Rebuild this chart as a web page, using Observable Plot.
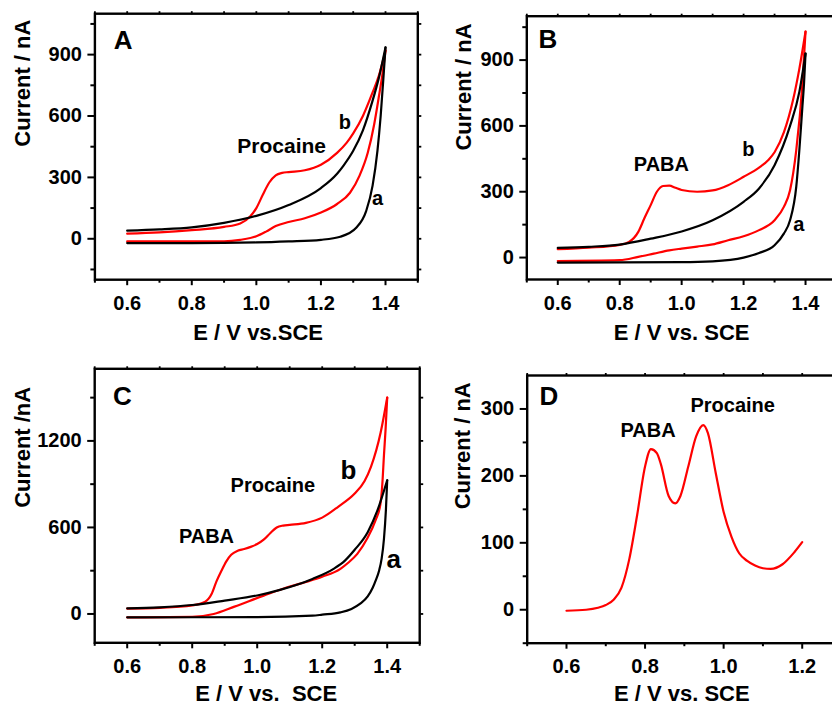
<!DOCTYPE html>
<html><head><meta charset="utf-8">
<script src="https://cdn.jsdelivr.net/npm/d3@7"></script>
<script src="https://cdn.jsdelivr.net/npm/@observablehq/plot@0.6"></script>
<style>
html,body{margin:0;padding:0;background:#fff;overflow:hidden;}
#fig{position:relative;width:832px;height:705px;overflow:hidden;font-family:"Liberation Sans",Arial,Helvetica,sans-serif;color:#000;}
.panel{position:absolute;}
</style></head><body><div id="fig"></div>
<script>
// ---------- Data (potential V vs. SCE, current nA) ----------
// Panel A: blank (a, black) and procaine (b, red), forward and reverse scans
const A_blank_fwd = [[0.6,40],[0.7,46],[0.8,56],[0.9,78],[1.0,112],[1.1,165],[1.2,248],[1.25,318],[1.27,358],[1.3,430],[1.33,530],[1.36,675],[1.38,790],[1.4,935]];
const A_blank_rev = [[1.4,935],[1.395,820],[1.385,600],[1.375,430],[1.36,260],[1.34,135],[1.31,55],[1.26,10],[1.2,-5],[1.1,-13],[1.0,-18],[0.8,-21],[0.6,-21]];
const A_sample_fwd = [[0.6,25],[0.7,31],[0.8,42],[0.9,58],[0.95,75],[0.98,108],[1.0,150],[1.02,215],[1.04,275],[1.06,310],[1.08,322],[1.1,326],[1.15,335],[1.2,362],[1.25,420],[1.28,470],[1.3,515],[1.33,600],[1.36,715],[1.38,800],[1.4,920]];
const A_sample_rev = [[1.4,920],[1.39,800],[1.38,700],[1.365,560],[1.345,420],[1.32,310],[1.29,225],[1.25,170],[1.2,128],[1.15,100],[1.1,82],[1.06,62],[1.03,35],[1.0,12],[0.95,-5],[0.9,-12],[0.8,-13],[0.6,-13]];

// Panel B: blank (a) and PABA (b)
const B_blank_fwd = [[0.6,44],[0.7,49],[0.8,59],[0.9,86],[1.0,119],[1.1,170],[1.2,254],[1.25,315],[1.3,421],[1.35,600],[1.38,755],[1.4,930]];
const B_blank_rev = [[1.4,930],[1.395,790],[1.39,690],[1.38,489],[1.37,322],[1.35,170],[1.33,109],[1.3,56],[1.25,21],[1.2,0],[1.1,-17],[1.0,-21],[0.6,-23]];
const B_sample_fwd = [[0.6,38],[0.7,45],[0.8,58],[0.83,71],[0.86,117],[0.88,180],[0.9,239],[0.92,300],[0.94,326],[0.96,328],[0.98,318],[1.0,308],[1.05,300],[1.1,306],[1.15,330],[1.2,368],[1.25,410],[1.28,445],[1.3,480],[1.33,570],[1.36,720],[1.38,860],[1.4,1030]];
const B_sample_rev = [[1.4,1030],[1.39,793],[1.37,489],[1.35,307],[1.33,231],[1.3,170],[1.25,125],[1.2,97],[1.15,79],[1.1,60],[1.05,50],[1.0,41],[0.96,33],[0.91,18],[0.86,3],[0.8,-12],[0.6,-16]];

// Panel C: blank (a) and procaine + PABA (b)
const C_blank_fwd = [[0.6,39],[0.7,46],[0.8,62],[0.9,93],[1.0,128],[1.07,167],[1.17,243],[1.235,313],[1.27,370],[1.3,445],[1.34,567],[1.37,718],[1.4,927]];
const C_blank_rev = [[1.4,927],[1.396,720],[1.39,520],[1.383,385],[1.375,300],[1.365,235],[1.355,180],[1.34,122],[1.317,71],[1.29,35],[1.256,11],[1.2,-5],[1.17,-12],[1.0,-22],[0.6,-23]];
const C_sample_fwd = [[0.6,37],[0.7,42],[0.8,59],[0.84,85],[0.86,140],[0.875,228],[0.89,300],[0.905,365],[0.92,410],[0.94,438],[0.96,450],[0.98,465],[1.0,485],[1.02,515],[1.04,560],[1.06,600],[1.08,613],[1.1,618],[1.15,632],[1.2,668],[1.25,745],[1.3,835],[1.33,920],[1.35,1020],[1.38,1260],[1.4,1500]];
const C_sample_rev = [[1.4,1500],[1.395,1280],[1.39,1100],[1.385,900],[1.379,760],[1.364,649],[1.338,521],[1.308,417],[1.28,355],[1.256,313],[1.2,258],[1.15,222],[1.1,190],[1.02,127],[0.93,51],[0.866,0],[0.8,-20],[0.6,-24]];

// Panel D: differential pulse voltammogram
const D_dpv = [[0.6,-1.5],[0.65,0],[0.68,3],[0.7,7],[0.72,15],[0.74,33],[0.76,76],[0.78,142],[0.8,214],[0.815,240],[0.83,234],[0.84,218],[0.86,170],[0.877,159],[0.89,170],[0.91,214],[0.93,259],[0.948,276],[0.96,264],[0.98,204],[1.0,146],[1.02,109],[1.04,84],[1.06,73],[1.08,66],[1.1,62],[1.12,61],[1.15,68],[1.18,86],[1.2,101]];

// Tick values
const xMajorABC = [0.6,0.8,1.0,1.2,1.4];
const xMinorABC = [0.5,0.7,0.9,1.1,1.3,1.5];
const xMajorD = [0.6,0.8,1.0,1.2];
const xMinorD = [0.5,0.7,0.9,1.1,1.3];
const yMajorA = [0,300,600,900];
const yMinorA = [-150,150,450,750,1050];
const yMajorB = [0,300,600,900];
const yMinorB = [150,450,750,1050];
const yMajorC = [0,600,1200];
const yMinorC = [300,900,1500];
const yMajorD = [0,100,200,300];
const yMinorD = [-50,50,150,250];

// Text annotations
const notesA = [{t:"A",v:0.5585,c:928,s:26},{t:"Procaine",v:0.941,c:418,s:21},{t:"b",v:1.255,c:537,s:20},{t:"a",v:1.3585,c:163,s:20}];
const notesB = [{t:"B",v:0.538,c:956,s:26},{t:"PABA",v:0.8455,c:395,s:20},{t:"b",v:1.1956,c:462,s:20},{t:"a",v:1.36,c:120,s:20}];
const notesC = [{t:"C",v:0.556,c:1448,s:26},{t:"Procaine",v:0.918,c:845,s:20},{t:"PABA",v:0.759,c:494,s:20},{t:"b",v:1.256,c:939,s:26},{t:"a",v:1.398,c:320,s:26}];
const notesD = [{t:"D",v:0.531,c:306,s:26},{t:"Procaine",v:0.9155,c:295,s:20},{t:"PABA",v:0.7374,c:258,s:20}];

const xTitles = ["E / V vs.SCE", "E / V vs. SCE", "E / V vs.\u00a0 SCE", "E / V vs. SCE"];
const yTitles = ["Current / nA", "Current / nA", "Current /nA", "Current / nA"];

// ---------- Builder ----------
const FONT = '"Liberation Sans", Arial, Helvetica, sans-serif';
const blank = () => "";

function panel(cfg) {
  const rows = [];
  cfg.series.forEach((s, i) => [...s.pts].sort((a, b) => a[0] - b[0]).forEach(([v, c]) => rows.push({v, c, key: i, color: s.color})));
  const xAll = [...cfg.xMajor, ...cfg.xMinor].sort((a, b) => a - b);
  const yAll = [...cfg.yMajor, ...cfg.yMinor].sort((a, b) => a - b);
  const svg = Plot.plot({
    width: cfg.width, height: cfg.height,
    marginLeft: cfg.m[0], marginRight: cfg.m[1], marginTop: cfg.m[2], marginBottom: cfg.m[3],
    x: {domain: cfg.xDomain},
    y: {domain: cfg.yDomain},
    style: {background: "transparent", overflow: "visible", fontFamily: FONT, color: "#000"},
    marks: [
      Plot.axisX({anchor: "bottom", ticks: cfg.xMajor, tickSize: 6, tickPadding: 10, tickFormat: d3.format(".1f"), label: null, fontSize: 20, fontWeight: "bold", strokeWidth: 2}),
      Plot.axisX({anchor: "bottom", ticks: cfg.xMinor, tickSize: 3.5, tickFormat: blank, label: null, strokeWidth: 2}),
      Plot.axisX({anchor: "top", ticks: xAll, tickSize: 3, tickFormat: blank, label: null, strokeWidth: 1.8}),
      Plot.axisY({anchor: "left", ticks: cfg.yMajor, tickSize: 7, tickPadding: 6, tickFormat: d3.format("d"), label: null, fontSize: 20, fontWeight: "bold", strokeWidth: 2}),
      Plot.axisY({anchor: "left", ticks: cfg.yMinor, tickSize: 4, tickFormat: blank, label: null, strokeWidth: 2}),
      Plot.axisY({anchor: "right", ticks: yAll, tickSize: 3, tickFormat: blank, label: null, strokeWidth: 1.8}),
      Plot.line(rows.filter(r => r.color === "red"), {x: "v", y: "c", z: "key", stroke: "#ff0000", strokeWidth: 2.2, curve: "monotone-x"}),
      Plot.line(rows.filter(r => r.color === "black"), {x: "v", y: "c", z: "key", stroke: "#000000", strokeWidth: 2.2, curve: "monotone-x"}),
      Plot.frame({stroke: "#000", strokeWidth: 2.4}),
      Plot.text(cfg.notes, {x: "v", y: "c", text: "t", fontSize: d => d.s, fontWeight: "bold", textAnchor: "start", lineAnchor: "bottom", fill: "#000"}),
      Plot.text([cfg.xTitle], {frameAnchor: "bottom", dx: cfg.xt[0], dy: cfg.xt[1], lineAnchor: "bottom", fontSize: 22, fontWeight: "bold", fill: "#000"}),
      Plot.text([cfg.yTitle], {frameAnchor: "left", rotate: -90, dx: cfg.yt[0], dy: cfg.yt[1], lineAnchor: "bottom", fontSize: 22, fontWeight: "bold", fill: "#000"})
    ]
  });
  const div = document.createElement("div");
  div.className = "panel";
  div.style.left = cfg.left + "px";
  div.style.top = cfg.top + "px";
  div.style.width = cfg.width + "px";
  div.style.height = cfg.height + "px";
  div.appendChild(svg);
  document.getElementById("fig").appendChild(div);
}

panel({left: 0, top: 0, width: 420, height: 350, m: [94.4, 2.7, 13.2, 70.8],
  xDomain: [0.5, 1.5], yDomain: [-200, 1100], xMajor: xMajorABC, xMinor: xMinorABC, yMajor: yMajorA, yMinor: yMinorA,
  series: [{pts: A_sample_fwd, color: "red"}, {pts: A_sample_rev, color: "red"}, {pts: A_blank_fwd, color: "black"}, {pts: A_blank_rev, color: "black"}],
  notes: notesA, xTitle: xTitles[0], yTitle: yTitles[0], xt: [1.8, 60.3], yt: [-65.1, 0]});

panel({left: 420, top: 0, width: 420, height: 350, m: [106.3, 4, 15.7, 71],
  xDomain: [0.5, 1.5], yDomain: [-100, 1100], xMajor: xMajorABC, xMinor: xMinorABC, yMajor: yMajorB, yMinor: yMinorB,
  series: [{pts: B_sample_fwd, color: "red"}, {pts: B_sample_rev, color: "red"}, {pts: B_blank_fwd, color: "black"}, {pts: B_blank_rev, color: "black"}],
  notes: notesB, xTitle: xTitles[1], yTitle: yTitles[1], xt: [0, 60.3], yt: [-56.3, 2.7]});

panel({left: 0, top: 350, width: 420, height: 355, m: [94.2, 0.8, 18.3, 62.7],
  xDomain: [0.5, 1.5], yDomain: [-200, 1700], xMajor: xMajorABC, xMinor: xMinorABC, yMajor: yMajorC, yMinor: yMinorC,
  series: [{pts: C_sample_fwd, color: "red"}, {pts: C_sample_rev, color: "red"}, {pts: C_blank_fwd, color: "black"}, {pts: C_blank_rev, color: "black"}],
  notes: notesC, xTitle: xTitles[2], yTitle: yTitles[2], xt: [9, 58], yt: [-64.9, 2]});

panel({left: 420, top: 350, width: 430, height: 355, m: [106.7, 9, 25, 62.3],
  xDomain: [0.5, 1.3], yDomain: [-50, 350], xMajor: xMajorD, xMinor: xMinorD, yMajor: yMajorD, yMinor: yMinorD,
  series: [{pts: D_dpv, color: "red"}],
  notes: notesD, xTitle: xTitles[3], yTitle: yTitles[3], xt: [-2.6, 57.6], yt: [-57.4, 0]});
</script></body></html>
